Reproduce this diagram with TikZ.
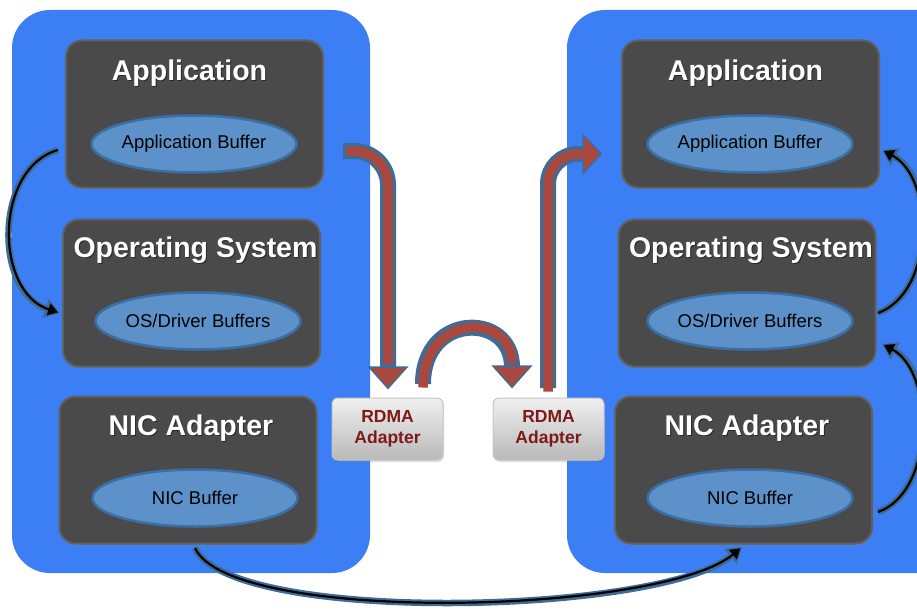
\documentclass[tikz,border=0pt]{standalone}
\usepackage{fontspec}
\setmainfont{Liberation Sans}
\usetikzlibrary{shapes.geometric,shadows,arrows.meta}
\definecolor{panelblue}{RGB}{60,126,244}
\definecolor{boxgray}{RGB}{74,74,74}
\definecolor{boxrim}{RGB}{96,96,96}
\definecolor{ellfill}{RGB}{92,146,201}
\definecolor{elldraw}{RGB}{58,110,165}
\definecolor{arrowred}{RGB}{168,72,62}
\definecolor{arrowedge}{RGB}{62,108,150}
\definecolor{rdmatext}{RGB}{125,25,25}
\tikzset{
  panel/.style={fill=panelblue, rounded corners=38pt},
  layerbox/.style={rectangle, fill=boxgray, draw=boxrim, line width=2pt, rounded corners=16pt, minimum width=257pt, minimum height=147pt,
    drop shadow={opacity=0.35, shadow xshift=1pt, shadow yshift=-2pt}},
  title/.style={text=white, inner sep=0pt, font=\bfseries\fontsize{28.5}{31}\selectfont},
  titleshadow/.style={text=black, opacity=0.45, inner sep=0pt, font=\bfseries\fontsize{28.5}{31}\selectfont},
  buffer/.style={ellipse, fill=ellfill, draw=elldraw, line width=2.5pt, minimum width=205pt, minimum height=57pt,
    inner sep=0pt, font=\fontsize{18.5}{20}\selectfont},
  rdma/.style={rectangle, rounded corners=6pt, top color=gray!12, bottom color=gray!55, draw=gray!45, line width=1pt,
    minimum width=111pt, minimum height=62pt, align=center, text=rdmatext, inner sep=0pt,
    font=\bfseries\fontsize{17.5}{21}\selectfont,
    drop shadow={opacity=0.25, shadow xshift=1pt, shadow yshift=-2pt}},
  fatedge/.style={arrowedge, line width=16pt},
  fatred/.style={arrowred, line width=9.5pt},
  headedge/.style={fill=arrowedge, draw=arrowedge, line width=3.2pt, line join=miter},
  headred/.style={fill=arrowred},
  loopedge/.style={arrowedge, line width=6.5pt, -{Triangle[length=15pt,width=19pt]}},
  loopcore/.style={black, line width=2.2pt, shorten >=2pt, -{Triangle[length=10pt,width=12pt]}},
}
\begin{document}
\begin{tikzpicture}[x=1pt,y=-1pt]
\useasboundingbox (0,0) rectangle (917,610);
\begin{scope}
\clip (0,0) rectangle (917,610);
% panels
\fill[panel] (12,10) rectangle (370,573);
\fill[panel] (567,10) rectangle (960,573);

% layer boxes
\node[layerbox] (lapp) at (194.5,114) {};
\node[layerbox] (los)  at (191.5,293) {};
\node[layerbox] (lnic) at (188,470) {};
\node[layerbox] (rapp) at (750.5,114) {};
\node[layerbox] (ros)  at (747,293) {};
\node[layerbox] (rnic) at (743.5,470) {};

% titles (with soft shadow)
\foreach \p/\t in {{(189.5,73)}/Application, {(195.5,250)}/Operating System, {(191,428)}/NIC Adapter,
                   {(745.5,73)}/Application, {(751,250)}/Operating System, {(747,428)}/NIC Adapter}
  \node[titleshadow, xshift=1pt, yshift=-1.5pt] at \p {\t};
\node[title] (lappt) at (189.5,73) {Application};
\node[title] (lost)  at (195.5,250) {Operating System};
\node[title] (lnict) at (191,428) {NIC Adapter};
\node[title] (rappt) at (745.5,73) {Application};
\node[title] (rost)  at (751,250) {Operating System};
\node[title] (rnict) at (747,428) {NIC Adapter};

% buffers
\node[buffer] (lappb) at (194,144) {Application Buffer};
\node[buffer] (losb)  at (198,321) {OS/Driver Buffers};
\node[buffer] (lnicb) at (195,498) {NIC Buffer};
\node[buffer] (rappb) at (750,144) {Application Buffer};
\node[buffer] (rosb)  at (750,321) {OS/Driver Buffers};
\node[buffer] (rnicb) at (750,498) {NIC Buffer};

% RDMA adapters
\node[rdma] (lrdma) at (387.5,429) {RDMA\\Adapter};
\node[rdma] (rrdma) at (548.5,429) {RDMA\\Adapter};

% coordinates for the red arrows
\coordinate (a1s) at (343,151);
\coordinate (a1e) at (388,368);
\coordinate (a2s) at (423,384);
\coordinate (a2e) at (512,367);
\coordinate (a3s) at (548,388);
\coordinate (a3e) at (584,154);

% red arrow 1 (down)
\draw[fatedge, rounded corners=34pt] (a1s) -| (a1e);
\path[headedge] (371,368) -- (405,368) -- (388,387) -- cycle;
\draw[fatred, rounded corners=34pt] ([xshift=3.5pt]a1s) -| ([yshift=4pt]a1e);
\path[headred] (371,368) -- (405,368) -- (388,387) -- cycle;

% red arrow 2 (arch)
\draw[fatedge] (a2s) .. controls (423,312) and (512,312) .. (a2e);
\path[headedge] (495,367) -- (529,367) -- (512,386) -- cycle;
\draw[fatred] ([yshift=-3.5pt]a2s) .. controls (423,312) and (512,312) .. ([yshift=4pt]a2e);
\path[headred] (495,367) -- (529,367) -- (512,386) -- cycle;

% red arrow 3 (up and right)
\draw[fatedge, rounded corners=30pt] (a3s) |- (a3e);
\path[headedge] (584,137) -- (584,171) -- (600,154) -- cycle;
\draw[fatred, rounded corners=30pt] ([yshift=-3.5pt]a3s) |- ([xshift=4pt]a3e);
\path[headred] (584,137) -- (584,171) -- (600,154) -- cycle;

% curved copy arrows
\coordinate (c1s) at (58,150);  \coordinate (c1e) at (60,313);
\coordinate (c2s) at (878,512); \coordinate (c2e) at (882,344);
\coordinate (c3s) at (878,313); \coordinate (c3e) at (882,150);
\coordinate (c4s) at (195,548); \coordinate (c4e) at (742,547);

\draw[loopedge] (c1s) .. controls (-6,168) and (-6,292) .. (c1e);
\draw[loopcore] (c1s) .. controls (-6,168) and (-6,292) .. (c1e);
\draw[loopedge] (c2s) .. controls (935,492) and (935,372) .. (c2e);
\draw[loopcore] (c2s) .. controls (935,492) and (935,372) .. (c2e);
\draw[loopedge] (c3s) .. controls (935,292) and (935,178) .. (c3e);
\draw[loopcore] (c3s) .. controls (935,292) and (935,178) .. (c3e);
\draw[loopedge] (c4s) .. controls (230,625) and (660,615) .. (c4e);
\draw[loopcore] (c4s) .. controls (230,625) and (660,615) .. (c4e);
\end{scope}
\end{tikzpicture}
\end{document}
